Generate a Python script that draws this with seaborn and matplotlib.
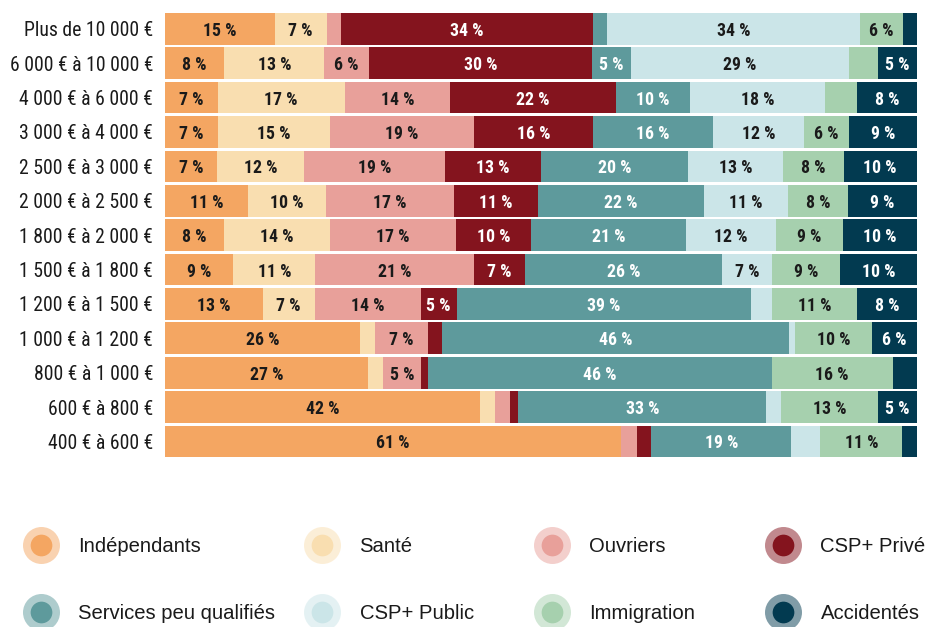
import matplotlib
matplotlib.use("Agg")
import matplotlib.pyplot as plt
from matplotlib import font_manager
import pandas as pd
import seaborn as sns

# Income bands, top to bottom
bands = [
    "Plus de 10 000 €",
    "6 000 € à 10 000 €",
    "4 000 € à 6 000 €",
    "3 000 € à 4 000 €",
    "2 500 € à 3 000 €",
    "2 000 € à 2 500 €",
    "1 800 € à 2 000 €",
    "1 500 € à 1 800 €",
    "1 200 € à 1 500 €",
    "1 000 € à 1 200 €",
    "800 € à 1 000 €",
    "600 € à 800 €",
    "400 € à 600 €",
]

categories = [
    "Indépendants", "Santé", "Ouvriers", "CSP+ Privé",
    "Services peu qualifiés", "CSP+ Public", "Immigration", "Accidentés",
]

# Share of each group per income band (%)
independants = [14.6, 7.9, 7.0, 7.0, 6.9, 11.0, 7.9, 9.1, 13.0, 25.9, 27.0, 41.9, 60.6]
sante        = [6.9, 13.3, 16.9, 14.9, 11.6, 10.4, 14.0, 10.9, 6.9, 2.0, 2.0, 2.0, 0.0]
ouvriers     = [1.9, 5.9, 14.0, 19.2, 18.7, 17.0, 16.8, 21.1, 14.1, 7.1, 5.1, 2.0, 2.2]
csp_prive    = [33.6, 29.7, 22.1, 15.8, 12.8, 11.2, 10.0, 6.8, 4.8, 1.9, 0.9, 1.1, 1.9]
services     = [1.8, 5.2, 9.8, 16.0, 19.6, 22.1, 20.6, 26.2, 39.2, 46.1, 45.7, 33.0, 18.6]
csp_public   = [33.6, 29.0, 18.0, 12.1, 12.6, 11.2, 12.0, 6.6, 2.8, 0.8, 0.0, 2.0, 3.9]
immigration  = [5.8, 3.9, 4.3, 6.0, 8.1, 8.0, 8.9, 9.1, 11.3, 10.2, 16.1, 12.9, 10.9]
accidentes   = [1.8, 5.1, 7.9, 9.0, 9.7, 9.1, 9.8, 10.2, 7.9, 6.0, 3.2, 5.1, 1.9]

series = [independants, sante, ouvriers, csp_prive,
          services, csp_public, immigration, accidentes]

colors = ["#F4A662", "#F9DEB0", "#E8A09A", "#84141E",
          "#5E9A9C", "#CBE5E8", "#A6D0AE", "#023A50"]
light_text = {"CSP+ Privé", "Services peu qualifiés", "Accidentés"}

sns.set_theme(style="white")
installed = {f.name for f in font_manager.fontManager.ttflist}
narrow = next((n for n in ["Roboto Condensed", "Liberation Sans Narrow", "Arial Narrow"]
               if n in installed), "Liberation Sans")
plt.rcParams["font.family"] = ["Liberation Sans", "DejaVu Sans"]

W, H = 926, 627
fig = plt.figure(figsize=(W / 100, H / 100), dpi=100)
plot_left, plot_right, plot_top, plot_bottom = 165, 916.7, 13, 457.3
ax = fig.add_axes([plot_left / W, 1 - plot_bottom / H,
                   (plot_right - plot_left) / W, (plot_bottom - plot_top) / H])

df = pd.DataFrame(dict(zip(categories, series)), index=bands)
cum = df.cumsum(axis=1)

bar_h = 0.92
# Stacked bars: cumulative totals drawn from the last group backwards,
# so each shorter bar covers the start of the longer one behind it.
for cat, col in reversed(list(zip(categories, colors))):
    sns.barplot(x=cum[cat].values, y=bands, order=bands, orient="h",
                color=col, saturation=1, width=bar_h, linewidth=0, ax=ax)
for p in ax.patches:
    p.set_antialiased(False)

# Percentage labels centred in each segment wide enough to hold them
for i, band in enumerate(bands):
    for cat in categories:
        v = df.loc[band, cat]
        if v >= 4.5:
            ax.text(cum.loc[band, cat] - v / 2, i, f"{v:.0f} %",
                    ha="center", va="center_baseline", fontsize=12.8,
                    fontweight="bold", family=[narrow, "DejaVu Sans"],
                    color="white" if cat in light_text else "#1a1a1a")

ax.set_xlim(0, 100)
ax.set_ylim(len(bands) - 1 + bar_h / 2, -bar_h / 2)
ax.set_xlabel("")
ax.set_ylabel("")
ax.set_xticks([])
sns.despine(ax=ax, left=True, bottom=True)
ax.tick_params(axis="y", length=0, pad=8.5, labelsize=14.2, labelcolor="#1a1a1a")
for lbl in ax.get_yticklabels():
    lbl.set_fontfamily([narrow, "DejaVu Sans"])

# Legend: two rows of four, a solid dot inside a pale halo
lax = fig.add_axes([0, 0, 1, 1])
lax.set_xlim(0, W)
lax.set_ylim(H, 0)
lax.axis("off")
lax.patch.set_alpha(0)
col_x = [40.8, 322, 552, 783]
row_y = [545, 612]
for k, (cat, col) in enumerate(zip(categories, colors)):
    cx, cy = col_x[k % 4], row_y[k // 4]
    lax.scatter([cx], [cy], s=(37 * 0.72) ** 2, color=col, alpha=0.5, linewidths=0)
    lax.scatter([cx], [cy], s=(21.7 * 0.72) ** 2, color=col, linewidths=0)
    lax.text(cx + 37.5, cy + 7, cat, ha="left", va="baseline",
             fontsize=14.6, color="#1a1a1a")

fig.savefig("out.png", dpi=100)
